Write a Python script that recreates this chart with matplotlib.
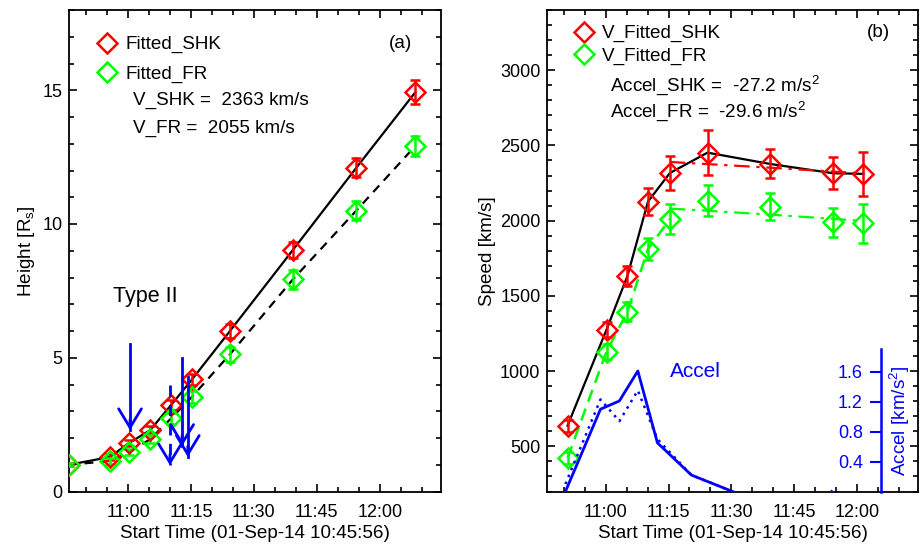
"""Two-panel CME kinematics plot: height-time (a) and speed/accel-time (b)."""

import matplotlib

matplotlib.use("Agg")
import matplotlib.pyplot as plt
from matplotlib.lines import Line2D
from matplotlib.ticker import FuncFormatter, MultipleLocator

plt.rcParams["font.family"] = ["Liberation Sans", "DejaVu Sans"]
plt.rcParams["mathtext.default"] = "regular"

W, H = 921, 547
RED, GREEN, BLUE = "#ff0000", "#00ff00", "#0000ff"
TXT = 13.6

# ---- data (time in minutes after 11:00 UT) ------------------------------------
t_height = [-14.07, -4.3, 0.3, 5.25, 10.25, 15.25, 24.3, 39.3, 54.4, 68.5]
h_shk = [1.0, 1.29, 1.82, 2.29, 3.23, 4.19, 6.0, 9.03, 12.1, 14.93]
h_fr = [1.0, 1.14, 1.48, 1.95, 2.73, 3.54, 5.13, 7.93, 10.5, 12.92]
h_shk_err = [0.05, 0.1, 0.12, 0.15, 0.2, 0.22, 0.25, 0.3, 0.36, 0.45]
h_fr_err = [0.05, 0.1, 0.12, 0.15, 0.2, 0.22, 0.28, 0.35, 0.36, 0.38]

t_speed = [-9.1, 0.2, 5.2, 10.1, 15.3, 24.3, 39.2, 54.3, 61.5]
v_shk = [637, 1275, 1633, 2127, 2316, 2452, 2377, 2315, 2311]
v_fr = [423, 1130, 1396, 1811, 2010, 2133, 2094, 1990, 1983]
v_shk_err = [40, 50, 66, 89, 113, 150, 96, 107, 147]
v_fr_err = [40, 50, 66, 74, 99, 105, 92, 96, 131]

# linear (decelerating) fits after 11:15
t_fit = [15.3, 24.3, 39.2, 54.3, 61.5]
v_shk_fit = [2390, 2376, 2352, 2326, 2315]
v_fr_fit = [2080, 2066, 2040, 2012, 1998]

# acceleration, km/s^2 (negative part falls below the inset axis)
acc_shk = [0.0, 1.10, 1.21, 1.61, 0.65, 0.22, -0.08, -0.3, 0.0]
acc_fr = [0.1, 1.23, 0.94, 1.35, 0.70, 0.22, -0.08, -0.3, -0.05]

# type II radio burst markers: time, arrow top, arrow tip, style
burst_t = [0.48, 10.0, 12.9, 14.25]
burst_top = [5.5, 3.98, 5.0, 4.29]
burst_tip = [2.29, 0.98, 1.7, 1.29]
burst_ls = ["-", "--", "-", "-"]

XLIM = (-14.07, 74.6)


def clock(m, _pos):
    m = int(round(m))
    return f"{11 + m // 60}:{m % 60:02d}"


def frame(ax):
    for sp in ax.spines.values():
        sp.set_linewidth(1.3)
    ax.tick_params(which="both", direction="in", top=True, right=True,
                   width=1.2, labelsize=13)
    ax.tick_params(which="major", length=6)
    ax.tick_params(which="minor", length=3.3)
    ax.tick_params(axis="x", pad=9.2)
    ax.tick_params(axis="y", pad=4.5)
    ax.set_xlim(*XLIM)
    ax.xaxis.set_major_locator(MultipleLocator(15))
    ax.xaxis.set_minor_locator(MultipleLocator(5))
    ax.xaxis.set_major_formatter(FuncFormatter(clock))
    ax.set_xlabel("Start Time (01-Sep-14 10:45:56)", fontsize=TXT, labelpad=2.5)


def points(ax, t, y, err, color):
    ax.errorbar(t, y, yerr=err, fmt="D", ms=10, mfc="none", mec=color,
                mew=1.8, ecolor=color, elinewidth=1.8, capsize=3.6,
                capthick=1.8, zorder=4)


def key(ax, labels, anchor, spacing):
    handles = [Line2D([], [], ls="none", marker="D", ms=10, mfc="none",
                      mec=c, mew=1.8) for c in (RED, GREEN)]
    ax.legend(handles, labels, loc="upper left", bbox_to_anchor=anchor,
              frameon=False, fontsize=TXT, handlelength=1.0,
              handletextpad=0.45, labelspacing=spacing, borderpad=0,
              borderaxespad=0)


fig = plt.figure(figsize=(W / 100, H / 100), dpi=100)
bottom, top = 491.5, 10
axa = fig.add_axes([69 / W, 1 - bottom / H, 372 / W, (bottom - top) / H])
axb = fig.add_axes([546.7 / W, 1 - bottom / H, 371.6 / W, (bottom - top) / H])
axc = fig.add_axes([546.7 / W, 1 - bottom / H, (881 - 546.7) / W,
                    (bottom - 349.3) / H])

# ---- panel (a): height ---------------------------------------------------------
frame(axa)
axa.set_ylim(0, 18)
axa.yaxis.set_major_locator(MultipleLocator(5))
axa.yaxis.set_minor_locator(MultipleLocator(1))
axa.set_ylabel("Height [R$_s$]", fontsize=TXT, labelpad=4)
axa.plot(t_height, h_shk, color="black", lw=1.6, zorder=3)
axa.plot(t_height, h_fr, color="black", lw=1.6, ls=(0, (4, 3)), zorder=3)
points(axa, t_height, h_shk, h_shk_err, RED)
points(axa, t_height, h_fr, h_fr_err, GREEN)

for x, y0, y1, ls in zip(burst_t, burst_top, burst_tip, burst_ls):
    axa.plot([x, x], [y0, y1], color=BLUE, lw=2, ls=ls if ls == "-" else (0, (4, 3)),
             zorder=5)
    axa.annotate("", xy=(x, y1), xytext=(x, y1 + 0.4),
                 arrowprops=dict(arrowstyle="->,head_length=13.5,head_width=8.2",
                                 color=BLUE, lw=2, mutation_scale=1,
                                 shrinkA=0, shrinkB=0), zorder=5)

axa.text(0.118, 0.404, "Type II", transform=axa.transAxes, fontsize=15.5,
         va="center")
key(axa, ["Fitted_SHK", "Fitted_FR"], (0.077, 0.946), 0.62)
axa.text(0.171, 0.813, "V_SHK =  2363 km/s", transform=axa.transAxes,
         fontsize=TXT, va="center")
axa.text(0.171, 0.755, "V_FR =  2055 km/s", transform=axa.transAxes,
         fontsize=TXT, va="center")
axa.text(0.892, 0.930, "(a)", transform=axa.transAxes, fontsize=TXT,
         ha="center", va="center")

# ---- panel (b): speed ----------------------------------------------------------
frame(axb)
axb.set_ylim(200, 3400)
axb.yaxis.set_major_locator(MultipleLocator(500))
axb.yaxis.set_minor_locator(MultipleLocator(100))
axb.set_ylabel("Speed [km/s]", fontsize=TXT, labelpad=3)
axb.plot(t_speed, v_shk, color="black", lw=1.6, zorder=3)
axb.plot(t_speed[:5], v_fr[:5], color=GREEN, lw=1.8, ls=(0, (5, 3)), zorder=3)
axb.plot(t_fit, v_shk_fit, color=RED, lw=1.6, ls=(0, (7, 3, 1.5, 3)), zorder=3)
axb.plot(t_fit, v_fr_fit, color=GREEN, lw=1.6, ls=(0, (7, 3, 1.5, 3)), zorder=3)
points(axb, t_speed, v_shk, v_shk_err, RED)
points(axb, t_speed, v_fr, v_fr_err, GREEN)

key(axb, ["V_Fitted_SHK", "V_Fitted_FR"], (0.074, 0.969), 0.26)
axb.text(0.170, 0.843, "Accel_SHK =  -27.2 m/s$^2$", transform=axb.transAxes,
         fontsize=TXT, va="center")
axb.text(0.170, 0.789, "Accel_FR =  -29.6 m/s$^2$", transform=axb.transAxes,
         fontsize=TXT, va="center")
axb.text(0.892, 0.954, "(b)", transform=axb.transAxes, fontsize=TXT,
         ha="center", va="center")

# ---- inset: acceleration on its own blue axis ----------------------------------
axc.patch.set_visible(False)
for side in ("top", "bottom", "right"):
    axc.spines[side].set_visible(False)
axc.spines["left"].set_position(("axes", 1.0))
axc.spines["left"].set_color(BLUE)
axc.spines["left"].set_linewidth(1.8)
axc.set_xlim(*XLIM)
axc.set_ylim(0, 1.9)
axc.xaxis.set_visible(False)
axc.set_yticks([0.4, 0.8, 1.2, 1.6], ["0.4", "0.8", "1.2", "1.6"])
axc.tick_params(axis="y", direction="out", length=8, width=1.5, color=BLUE,
                labelcolor=BLUE, labelsize=13, pad=5)
axc.yaxis.set_label_position("right")
axc.set_ylabel("Accel [km/s$^2$]", color=BLUE, fontsize=TXT, labelpad=5)
axc.plot(t_speed, acc_shk, color=BLUE, lw=2)
axc.plot(t_speed, acc_fr, color=BLUE, lw=1.8, ls=(0, (1, 2)))
axb.text(0.332, 0.249, "Accel", transform=axb.transAxes, fontsize=15,
         color=BLUE, va="center")

fig.savefig("out.png", dpi=100)
